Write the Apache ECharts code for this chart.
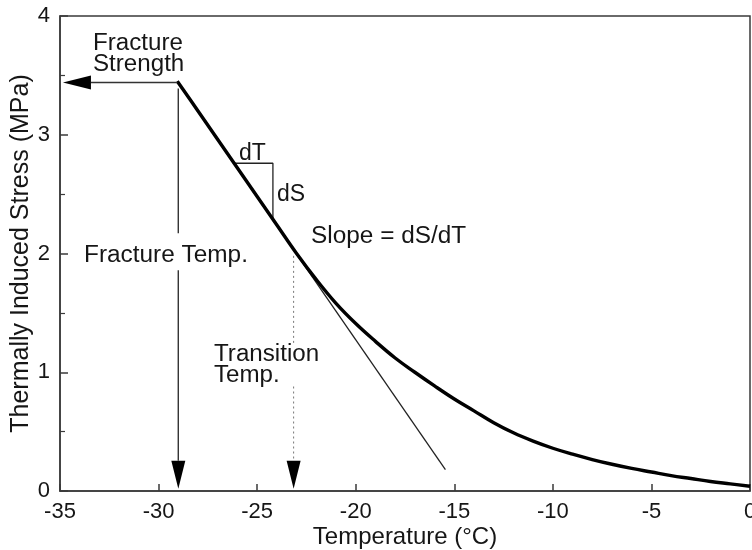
<!DOCTYPE html>
<html>
<head>
<meta charset="utf-8">
<script src="https://cdn.jsdelivr.net/npm/echarts@6/dist/echarts.min.js"></script>
<style>html,body{margin:0;padding:0;background:#fff}#c{width:752px;height:550px}</style>
</head>
<body>
<div id="c"></div>
<script>
// ---- data ----
const temperature = [-29.05,-28,-27,-26,-25,-24,-23,-22,-21,-20,-19,-18,-17,-16,-15,-14,-13,-12,-11,-10,-9,-8,-7,-6,-5,-4,-3,-2,-1,0];
const stress      = [3.45,3.20,2.96,2.72,2.48,2.24,2.00,1.78,1.58,1.41,1.26,1.12,1.00,0.885,0.775,0.675,0.575,0.49,0.42,0.36,0.31,0.265,0.225,0.19,0.16,0.13,0.105,0.08,0.06,0.04];
const tangentT = [-29.05, -15.45];
const tangentS = [3.45, 0.18];
const slopeStepT = [-26.2, -24.2, -24.2];
const slopeStepS = [2.76, 2.76, 2.28];
const fractureTemp = -29.0;
const fractureStrength = 3.44;
const transitionTemp = -23.15;
const xTicks = [-35, -30, -25, -20, -15, -10, -5, 0];
const yTicks = [0, 1, 2, 3, 4];
// annotation segments: [x1, y1, x2, y2, dotted(0/1), arrowhead(0/1)]
const arrowSegments = [
  [fractureTemp - 0.05, fractureStrength, -34.85, fractureStrength, 0, 1],
  [fractureTemp, 3.39, fractureTemp, 2.17, 0, 0],
  [fractureTemp, 1.86, fractureTemp, 0.02, 0, 1],
  [transitionTemp, 1.98, transitionTemp, 1.23, 1, 0],
  [transitionTemp, 0.88, transitionTemp, 0.02, 1, 1]
];

const FONT = '"Liberation Sans", Arial, Helvetica, sans-serif';
const ink = '#161616';
const annFont = '23px ' + FONT;

const chart = echarts.init(document.getElementById('c'), null, {renderer: 'canvas'});

function zip(a, b) { return a.map((v, i) => [v, b[i]]); }

const option = {
  backgroundColor: '#fff',
  animation: false,
  grid: {
    left: 60, right: 2, top: 16, bottom: 59,
    show: true, borderColor: '#3a3a3a', borderWidth: 1.5,
    containLabel: false, outerBoundsMode: 'none'
  },
  xAxis: {
    type: 'value', min: xTicks[0], max: xTicks[xTicks.length - 1], interval: 5,
    axisLine: {show: true, onZero: false, lineStyle: {color: '#3a3a3a', width: 1.5}},
    axisTick: {show: true, inside: true, length: 7, lineStyle: {color: '#3a3a3a', width: 1.5}},
    splitLine: {show: false},
    axisLabel: {color: ink, fontSize: 22, fontFamily: FONT, margin: 10, showMaxLabel: true, showMinLabel: true},
    name: 'Temperature (°C)', nameLocation: 'middle', nameGap: 34, nameMoveOverlap: false,
    nameTextStyle: {color: ink, fontSize: 24, fontFamily: FONT}
  },
  yAxis: {
    type: 'value', min: yTicks[0], max: yTicks[yTicks.length - 1], interval: 1,
    axisLine: {show: true, onZero: false, lineStyle: {color: '#3a3a3a', width: 1.5}},
    axisTick: {show: true, inside: true, length: 8, lineStyle: {color: '#3a3a3a', width: 1.5}},
    minorTick: {show: true, splitNumber: 2, length: 5, lineStyle: {color: '#3a3a3a', width: 1.2}},
    splitLine: {show: false},
    axisLabel: {color: ink, fontSize: 22, fontFamily: FONT, margin: 10},
    name: 'Thermally Induced Stress (MPa)', nameLocation: 'middle', nameGap: 26, nameMoveOverlap: false,
    nameTextStyle: {color: ink, fontSize: 25, fontFamily: FONT}
  },
  series: [
    {
      type: 'line', name: 'tangent', data: zip(tangentT, tangentS), showSymbol: false,
      lineStyle: {color: '#222', width: 1.3}, z: 2
    },
    {
      type: 'line', name: 'stress', data: zip(temperature, stress), showSymbol: false, smooth: 0.4,
      lineStyle: {color: '#000', width: 3.4}, z: 3
    },
    {
      type: 'line', name: 'step', data: zip(slopeStepT, slopeStepS), showSymbol: false,
      lineStyle: {color: '#222', width: 1.3}, z: 2
    },
    {
      type: 'custom', name: 'arrows', data: arrowSegments, z: 4,
      encode: {x: [0, 2], y: [1, 3]},
      renderItem: function (params, api) {
        const a = api.coord([api.value(0), api.value(1)]);
        const b = api.coord([api.value(2), api.value(3)]);
        const dotted = api.value(4) === 1;
        const head = api.value(5) === 1;
        const children = [];
        let end = b;
        if (head) {
          const dx = b[0] - a[0], dy = b[1] - a[1];
          const len = Math.sqrt(dx * dx + dy * dy);
          const ux = dx / len, uy = dy / len;
          const L = 28, W = 14;
          const base = [b[0] - ux * L, b[1] - uy * L];
          end = base;
          children.push({
            type: 'polygon',
            shape: {points: [b, [base[0] - uy * W / 2, base[1] + ux * W / 2], [base[0] + uy * W / 2, base[1] - ux * W / 2]]},
            style: {fill: '#000'}
          });
        }
        children.push({
          type: 'line',
          shape: {x1: a[0], y1: a[1], x2: end[0], y2: end[1]},
          style: {stroke: dotted ? '#777' : '#333', lineWidth: dotted ? 1 : 1.4, lineDash: dotted ? [2, 3] : null}
        });
        return {type: 'group', children: children};
      }
    }
  ],
  graphic: [
    {type: 'text', x: 93, y: 33, scaleX: 1.05, style: {text: 'Fracture\nStrength', font: annFont, fill: ink, lineHeight: 21, verticalAlign: 'top'}},
    {type: 'text', x: 84, y: 244, scaleX: 1.06, style: {text: 'Fracture Temp.', font: annFont, fill: ink, verticalAlign: 'top'}},
    {type: 'text', x: 214, y: 344, scaleX: 1.05, style: {text: 'Transition\nTemp.', font: annFont, fill: ink, lineHeight: 21, verticalAlign: 'top'}},
    {type: 'text', x: 239, y: 142, style: {text: 'dT', font: annFont, fill: ink, verticalAlign: 'top'}},
    {type: 'text', x: 277, y: 183, style: {text: 'dS', font: annFont, fill: ink, verticalAlign: 'top'}},
    {type: 'text', x: 311, y: 225, scaleX: 1.06, style: {text: 'Slope = dS/dT', font: annFont, fill: ink, verticalAlign: 'top'}}
  ]
};
chart.setOption(option);
</script>
</body>
</html>
